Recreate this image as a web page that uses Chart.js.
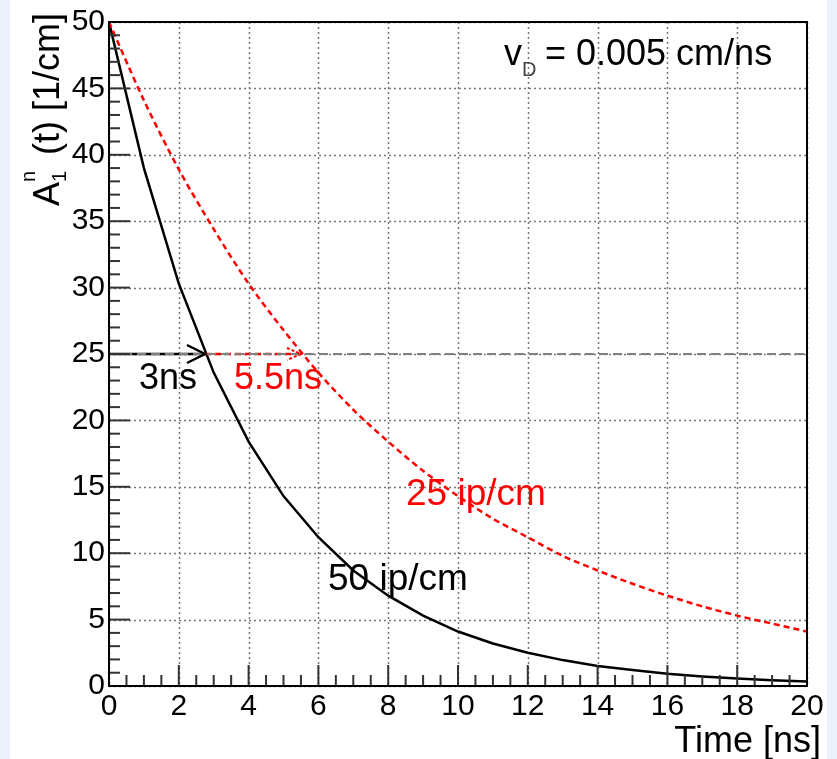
<!DOCTYPE html>
<html>
<head>
<meta charset="utf-8">
<script src="https://cdn.jsdelivr.net/npm/chart.js@4"></script>
<style>
  body { margin: 0; background: #ffffff; }
  canvas { display: block; }
</style>
</head>
<body>
<canvas id="myChart" width="837" height="759"></canvas>
<script>
const times = [0, 1, 2, 3, 4, 5, 6, 7, 8, 9, 10, 11, 12, 13, 14, 15, 16, 17, 18, 19, 20];
// 50 ip/cm (black, solid)
const amp50 = [50, 39, 30.3, 23.6, 18.4, 14.3, 11.2, 8.7, 6.8, 5.3, 4.1, 3.2, 2.5, 1.95, 1.5, 1.2, 0.92, 0.72, 0.56, 0.43, 0.34];
// 25 ip/cm (red, dashed)
const amp25 = [50, 44.1, 38.9, 34.4, 30.3, 26.8, 23.6, 20.8, 18.4, 16.2, 14.3, 12.6, 11.2, 9.8, 8.7, 7.7, 6.8, 6.0, 5.3, 4.7, 4.1];
const halfLevel = 25;
const halfTime50 = 2.75;
const halfTime25 = 5.5;
const xTicks = [0, 2, 4, 6, 8, 10, 12, 14, 16, 18, 20];
const yTicks = [0, 5, 10, 15, 20, 25, 30, 35, 40, 45, 50];

const toPoints = (xs, ys) => xs.map((x, i) => ({ x: x, y: ys[i] }));

const FONT = "'Liberation Sans', Arial, sans-serif";

const rootStyle = {
  id: "rootStyle",
  beforeDraw(chart) {
    const c = chart.ctx;
    c.save();
    c.fillStyle = "#ffffff";
    c.fillRect(0, 0, chart.width, chart.height);
    c.fillStyle = "#ebf0fb";
    c.fillRect(0, 0, 10, chart.height);
    c.fillRect(827, 0, 10, chart.height);
    c.restore();
  },
  beforeDatasetsDraw(chart) {
    const c = chart.ctx;
    const a = chart.chartArea;
    const xs = chart.scales.x, ys = chart.scales.y;
    c.save();
    c.strokeStyle = "#777";
    c.lineWidth = 1.5;
    c.setLineDash([2, 3]);
    xTicks.forEach(v => {
      const px = Math.round(xs.getPixelForValue(v)) + 0.5;
      c.beginPath(); c.moveTo(px, a.top); c.lineTo(px, a.bottom); c.stroke();
    });
    yTicks.forEach(v => {
      const py = Math.round(ys.getPixelForValue(v)) + 0.5;
      c.beginPath(); c.moveTo(a.left, py); c.lineTo(a.right, py); c.stroke();
    });
    c.restore();
  },
  afterDatasetsDraw(chart) {
    const c = chart.ctx;
    const a = chart.chartArea;
    const xs = chart.scales.x, ys = chart.scales.y;
    c.save();
    c.setLineDash([]);
    // tick marks (inside, ROOT style)
    c.strokeStyle = "#333";
    c.lineWidth = 2;
    for (let v = 0; v <= 20.001; v += 0.5) {
      const px = xs.getPixelForValue(v);
      const len = (Math.abs(v / 2 - Math.round(v / 2)) < 1e-6) ? 21 : 11;
      c.beginPath(); c.moveTo(px, a.bottom); c.lineTo(px, a.bottom - len); c.stroke();
    }
    for (let v = 0; v <= 50; v += 1) {
      const py = ys.getPixelForValue(v);
      const len = (v % 5 === 0) ? 21 : 11;
      c.beginPath(); c.moveTo(a.left, py); c.lineTo(a.left + len, py); c.stroke();
    }
    // frame
    c.strokeStyle = "#000";
    c.lineWidth = 2;
    c.strokeRect(a.left, a.top, a.right - a.left, a.bottom - a.top);

    // black arrowhead at the 50 ip/cm crossing
    const tipX = xs.getPixelForValue(halfTime50);
    const tipY = ys.getPixelForValue(halfLevel);
    c.strokeStyle = "#000";
    c.lineWidth = 2.5;
    c.beginPath();
    c.moveTo(tipX - 18, tipY - 9); c.lineTo(tipX, tipY); c.lineTo(tipX - 18, tipY + 9);
    c.stroke();
    // small red arrowhead at the 25 ip/cm crossing
    const tip2 = xs.getPixelForValue(halfTime25);
    c.strokeStyle = "#ff0000";
    c.lineWidth = 2;
    c.setLineDash([3, 2]);
    c.beginPath();
    c.moveTo(tip2 - 14, tipY - 6); c.lineTo(tip2, tipY); c.lineTo(tip2 - 14, tipY + 6);
    c.stroke();
    c.setLineDash([]);

    // texts
    c.textBaseline = "alphabetic";
    c.textAlign = "left";
    c.fillStyle = "#000";
    c.font = "36px " + FONT;
    c.fillText("3ns", 139, 389);
    c.fillStyle = "#ff0000";
    c.fillText("5.5ns", 234, 389);
    c.font = "37px " + FONT;
    c.fillText("25 ip/cm", 406, 505);
    c.fillStyle = "#000";
    c.fillText("50 ip/cm", 328, 590);

    // v_D label
    c.font = "36px " + FONT;
    c.fillText("v", 504, 65);
    c.font = "20px " + FONT;
    c.fillStyle = "#444";
    c.fillText("D", 522, 76);
    c.fillStyle = "#000";
    c.font = "36px " + FONT;
    c.fillText("= 0.005 cm/ns", 545, 65);

    // x title
    c.font = "36px " + FONT;
    c.textAlign = "right";
    c.fillText("Time [ns]", 821, 752);

    // y title (rotated)
    c.translate(59, 13);
    c.rotate(-Math.PI / 2);
    c.textAlign = "right";
    c.font = "36px " + FONT;
    const rest = " (t) [1/cm]";
    const wRest = c.measureText(rest).width;
    c.fillText(rest, 0, 0);
    const subW = 17;
    c.font = "20px " + FONT;
    c.textAlign = "left";
    c.fillText("1", -wRest - subW, 7);
    c.fillText("n", -wRest - subW, -24);
    c.font = "36px " + FONT;
    c.textAlign = "right";
    c.fillText("A", -wRest - subW, 0);
    c.restore();
  }
};

new Chart(document.getElementById("myChart"), {
  type: "line",
  data: {
    datasets: [
      {
        label: "half level",
        data: [{ x: 0, y: halfLevel }, { x: 20, y: halfLevel }],
        borderColor: "#808080",
        borderWidth: 2,
        borderDash: [9, 5],
        pointRadius: 0,
      },
      {
        label: "arrow 50",
        data: [{ x: 0, y: halfLevel }, { x: halfTime50, y: halfLevel }],
        borderColor: "#000",
        borderWidth: 2.5,
        pointRadius: 0,
      },
      {
        label: "arrow 25",
        data: [{ x: halfTime50, y: halfLevel }, { x: halfTime25, y: halfLevel }],
        borderColor: "#ff0000",
        borderWidth: 2.5,
        borderDash: [6, 4],
        pointRadius: 0,
      },
      {
        label: "25 ip/cm",
        data: toPoints(times, amp25),
        borderColor: "#ff0000",
        borderWidth: 2.5,
        borderDash: [6, 4],
        pointRadius: 0,
        tension: 0.3,
      },
      {
        label: "50 ip/cm",
        data: toPoints(times, amp50),
        borderColor: "#000",
        borderWidth: 2.5,
        pointRadius: 0,
        tension: 0,
      },
    ],
  },
  options: {
    responsive: false,
    animation: false,
    devicePixelRatio: 1,
    layout: { padding: { top: 17, right: 30, left: 0, bottom: 0 } },
    plugins: { legend: { display: false }, tooltip: { enabled: false } },
    scales: {
      x: {
        type: "linear",
        min: 0,
        max: 20,
        afterFit(scale) { scale.height = 73; },
        afterBuildTicks(scale) { scale.ticks = xTicks.map(v => ({ value: v })); },
        ticks: { color: "#000", font: { size: 30, family: FONT }, padding: 3, maxRotation: 0 },
        grid: { display: false, drawTicks: false },
        border: { display: false },
      },
      y: {
        min: 0,
        max: 50,
        afterFit(scale) { scale.width = 109; },
        afterBuildTicks(scale) { scale.ticks = yTicks.map(v => ({ value: v })); },
        ticks: { color: "#000", font: { size: 30, family: FONT }, padding: 4 },
        grid: { display: false, drawTicks: false },
        border: { display: false },
      },
    },
  },
  plugins: [rootStyle],
});
</script>
</body>
</html>
